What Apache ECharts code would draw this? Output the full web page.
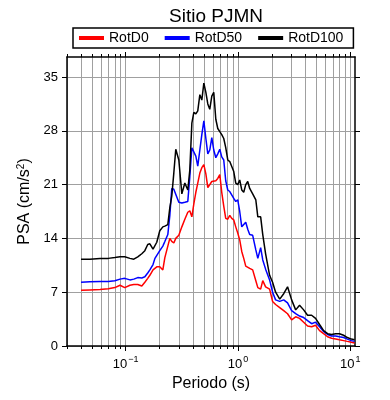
<!DOCTYPE html>
<html>
<head>
<meta charset="utf-8">
<script src="https://cdn.jsdelivr.net/npm/echarts@6/dist/echarts.min.js"></script>
<style>
  html, body { margin: 0; padding: 0; background: #fff; }
  #main { width: 390px; height: 400px; }
</style>
</head>
<body>
<div id="main"></div>
<script>
// periodos (s)
const periods = [
  0.040, 0.048, 0.059, 0.070, 0.080, 0.089, 0.098, 0.109, 0.118, 0.128,
  0.139, 0.148, 0.157, 0.164, 0.175, 0.182, 0.189, 0.201, 0.214, 0.223,
  0.237, 0.247, 0.257, 0.268, 0.279, 0.297, 0.316, 0.336, 0.357, 0.372,
  0.388, 0.404, 0.421, 0.438, 0.457, 0.476, 0.496, 0.517, 0.538, 0.560,
  0.584, 0.608, 0.634, 0.660, 0.688, 0.716, 0.746, 0.777, 0.810, 0.844,
  0.879, 0.916, 0.954, 0.994, 1.035, 1.079, 1.124, 1.171, 1.220, 1.27,
  1.35, 1.44, 1.50, 1.59, 1.66, 1.76, 1.91, 2.03, 2.16, 2.35,
  2.55, 2.76, 3.00, 3.26, 3.53, 3.84, 4.16, 4.52, 4.90, 5.32,
  5.78, 6.27, 6.80, 7.40, 8.00, 8.70, 9.40, 10.2, 10.9
]

const rotD0 = [
  7.25, 7.3, 7.35, 7.45, 7.6, 7.9, 7.6, 7.9, 8.0, 8.0,
  7.8, 8.3, 8.8, 9.2, 9.9, 10.1, 10.3, 10.3, 9.9, 11.5,
  13.0, 14.0, 13.6, 13.4, 14.0, 14.4, 15.5, 16.5, 17.4, 17.6,
  16.8, 18.5, 20.0, 21.2, 22.5, 23.2, 23.6, 22.4, 20.6, 20.7,
  21.4, 21.4, 21.5, 21.8, 22.3, 20.0, 18.2, 16.6, 16.5, 17.0,
  16.6, 16.4, 15.5, 14.7, 13.8, 12.3, 11.4, 10.4, 10.2, 10.1,
  9.9, 8.5, 7.6, 7.4, 8.5, 7.7, 7.4, 5.8, 5.4, 5.0,
  4.6, 4.2, 3.4, 3.8, 3.6, 3.1, 2.6, 2.5, 2.7, 2.0,
  1.6, 1.2, 1.0, 0.9, 0.8, 0.7, 0.6, 0.5, 0.4
]

const rotD50 = [
  8.3, 8.35, 8.4, 8.4, 8.5, 8.7, 8.8, 8.6, 8.7, 8.9,
  8.85, 9.0, 9.5, 9.9, 10.6, 11.4, 11.2, 12.4, 13.0, 13.6,
  14.5, 17.0, 20.5, 20.4, 20.2, 18.7, 18.6, 18.7, 18.8, 22.0,
  25.8, 26.0, 24.7, 23.4, 25.5, 27.5, 29.3, 27.0, 25.0, 25.5,
  27.1, 25.5, 24.5, 25.0, 25.6, 24.6, 24.2, 21.5, 20.3, 20.1,
  20.0, 19.2, 18.8, 19.0, 17.5, 15.5, 15.6, 16.1, 15.2, 14.5,
  14.4, 12.5, 11.4, 12.8, 11.2, 10.0, 8.6, 7.0, 6.0, 5.8,
  6.0, 5.6, 4.6, 4.2, 3.9, 3.7, 3.3, 2.9, 3.1, 2.5,
  1.9, 1.5, 1.3, 1.3, 1.2, 1.1, 0.9, 0.7, 0.6
]

const rotD100 = [
  11.3, 11.3, 11.4, 11.4, 11.5, 11.6, 11.6, 11.4, 11.3, 11.6,
  12.0, 12.4, 13.2, 13.3, 12.6, 12.4, 13.5, 15.0, 15.5, 15.6,
  15.8, 18.0, 19.5, 22.5, 25.6, 24.2, 19.8, 21.2, 20.3, 22.9,
  29.0, 30.4, 30.2, 30.6, 32.7, 32.0, 34.2, 33.0, 31.5, 30.8,
  32.5, 33.0, 29.5, 28.3, 27.9, 27.5, 27.0, 25.8, 24.2, 24.0,
  24.2, 22.7, 21.2, 21.0, 21.6, 20.3, 20.0, 21.0, 21.4, 20.5,
  19.8, 19.0, 16.8, 16.8, 14.5, 12.0, 9.2, 8.3, 7.0, 6.1,
  6.8, 7.7, 6.0, 4.7, 5.3, 4.7, 4.0, 4.0, 3.6, 2.8,
  2.0, 1.6, 1.5, 1.6, 1.6, 1.4, 1.1, 0.9, 0.8
]

const xMajor = [0.1, 1, 10]
const xAll = [
  0.03, 0.04, 0.05, 0.06, 0.07, 0.08, 0.09,
  0.1, 0.2, 0.3, 0.4, 0.5, 0.6, 0.7, 0.8, 0.9,
  1, 2, 3, 4, 5, 6, 7, 8, 9, 10
]
const yTicks = [0, 7, 14, 21, 28, 35]

const font = 'Liberation Sans'
const frame = { show: true, lineStyle: { color: '#000', width: 1.5 } }
const grayLine = { show: true, lineStyle: { color: '#a0a0a0', width: 1 } }

function logAxis(position, ticks, len, withLabels) {
  return {
    type: 'log',
    position: position,
    min: 0.03,
    max: 11,
    axisLine: frame,
    axisTick: { show: true, customValues: ticks, length: len, lineStyle: { color: '#000', width: 1 } },
    axisLabel: withLabels
      ? {
          customValues: xMajor,
          margin: 9,
          fontFamily: font,
          fontSize: 13,
          color: '#000',
          formatter: function (v) {
            const e = Math.round(Math.log10(v))
            return '{b|10}{sup|' + (e < 0 ? '\u2212' + (-e) : e) + '}'
          },
          rich: {
            b: { fontFamily: font, fontSize: 13, color: '#000', lineHeight: 16, verticalAlign: 'bottom' },
            sup: { fontFamily: font, fontSize: 9, color: '#000', lineHeight: 16, verticalAlign: 'top', padding: [0, 0, 4, 1] }
          }
        }
      : { show: false },
    splitLine: { show: false }
  }
}

const xBottomMajor = logAxis('bottom', xMajor, 5, true)
xBottomMajor.name = 'Periodo (s)'
xBottomMajor.nameLocation = 'middle'
xBottomMajor.nameGap = 27
xBottomMajor.nameTextStyle = { fontFamily: font, fontSize: 16, color: '#000' }

const xBottomMinor = logAxis('bottom', xAll, 3, false)
xBottomMinor.axisLine = { show: false }
xBottomMinor.splitLine = grayLine

const xTopMajor = logAxis('top', xMajor, 5, false)
const xTopMinor = logAxis('top', xAll, 3, false)
xTopMinor.axisLine = { show: false }

const myChart = echarts.init(document.getElementById('main'))
myChart.setOption({
  animation: false,
  backgroundColor: '#fff',
  title: {
    text: 'Sitio PJMN',
    left: 211,
    textAlign: 'center',
    top: 2,
    textStyle: { fontFamily: font, fontSize: 19, fontWeight: 'normal', color: '#000' }
  },
  legend: {
    top: 28,
    left: 73,
    padding: [3, 10, 3, 6],
    borderColor: '#000',
    borderWidth: 1.5,
    itemGap: 16,
    itemWidth: 25,
    itemHeight: 4,
    icon: 'rect',
    textStyle: { fontFamily: font, fontSize: 14, color: '#000' },
    data: ['RotD0', 'RotD50', 'RotD100']
  },
  grid: { left: 67, right: 35, top: 57, bottom: 54 },
  xAxis: [xBottomMajor, xBottomMinor, xTopMajor, xTopMinor],
  yAxis: [
    {
      type: 'value',
      min: 0,
      max: 37.6,
      position: 'left',
      name: 'PSA (cm/s{sup|2})',
      nameLocation: 'middle',
      nameGap: 27,
      nameTextStyle: {
        fontFamily: font,
        fontSize: 16,
        color: '#000',
        rich: {
          sup: { fontFamily: font, fontSize: 10, color: '#000', verticalAlign: 'top', padding: [0, 0, 6, 0] }
        }
      },
      axisLine: frame,
      axisTick: { show: true, customValues: yTicks, length: 5, lineStyle: { color: '#000', width: 1 } },
      axisLabel: { customValues: yTicks, margin: 9, fontFamily: font, fontSize: 13, color: '#000' },
      splitLine: grayLine
    },
    {
      type: 'value',
      min: 0,
      max: 37.6,
      position: 'right',
      axisLine: frame,
      axisTick: { show: true, customValues: yTicks, length: 5, lineStyle: { color: '#000', width: 1 } },
      axisLabel: { show: false },
      splitLine: { show: false }
    }
  ],
  series: [
    {
      name: 'RotD0',
      type: 'line',
      showSymbol: false,
      color: '#ff0000',
      lineStyle: { width: 1.5 },
      data: periods.map((p, i) => [p, rotD0[i]])
    },
    {
      name: 'RotD50',
      type: 'line',
      showSymbol: false,
      color: '#0000ff',
      lineStyle: { width: 1.5 },
      data: periods.map((p, i) => [p, rotD50[i]])
    },
    {
      name: 'RotD100',
      type: 'line',
      showSymbol: false,
      color: '#000000',
      lineStyle: { width: 1.5 },
      data: periods.map((p, i) => [p, rotD100[i]])
    }
  ]
})
</script>
</body>
</html>
